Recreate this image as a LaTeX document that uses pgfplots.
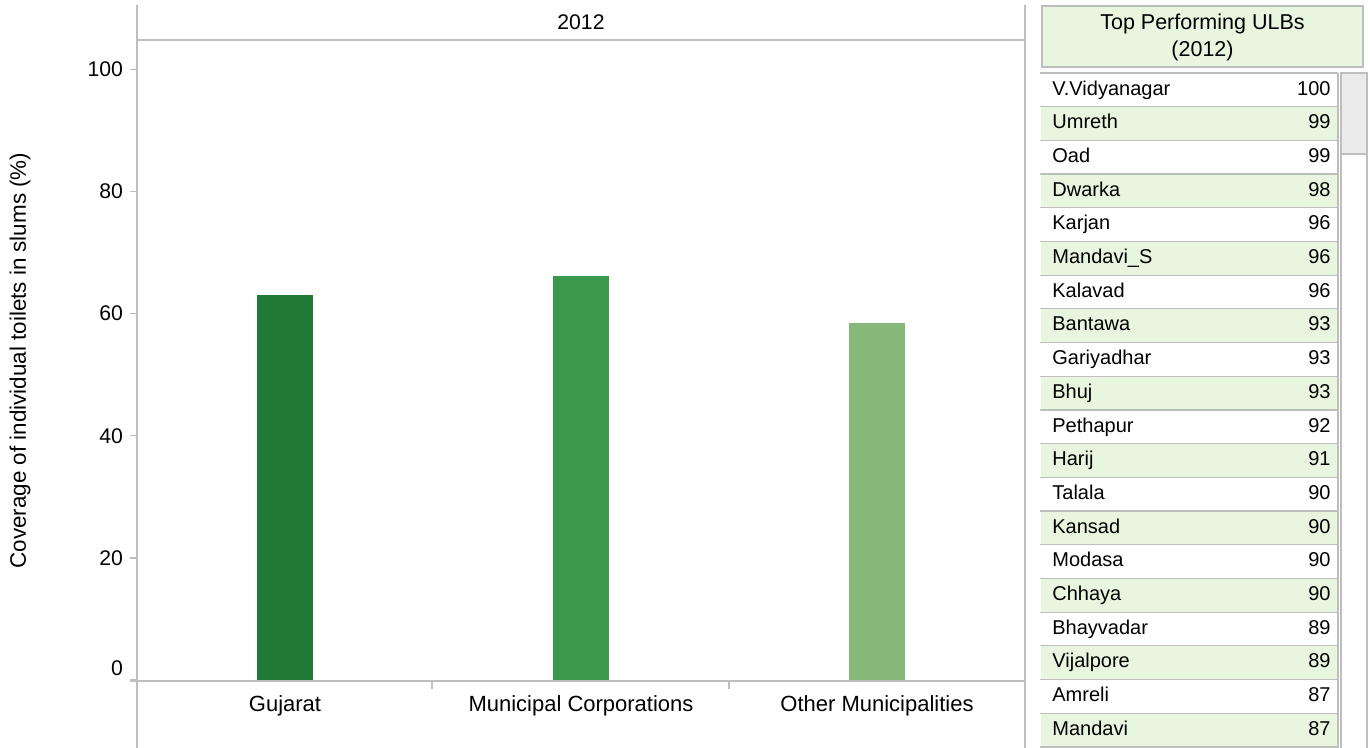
\documentclass[border=0pt]{standalone}
\usepackage{fontspec}
\setmainfont{Liberation Sans}
\usepackage{pgfplots}
\pgfplotsset{compat=1.18}
\definecolor{gA}{HTML}{217B37}
\definecolor{gB}{HTML}{3A994A}
\definecolor{gC}{HTML}{88B77A}
\definecolor{rowgreen}{HTML}{E8F5DF}
\definecolor{linegray}{HTML}{BEBEBE}
\definecolor{thumb}{HTML}{EBEBEB}

\begin{document}
\begin{tikzpicture}
\useasboundingbox (0,0) rectangle (686pt,-374pt);
\begin{axis}[
  at={(68.5pt,-340.5pt)}, anchor=south west,
  scale only axis, width=444pt, height=320.5pt,
  ymin=-0.16, ymax=104.8, xmin=-0.5, xmax=2.5,
  ytick={20,40,...,100},
  extra y ticks={0},
  extra y tick style={yticklabel style={yshift=6pt}},
  ytick pos=left,
  xtick={0,1,2},
  xticklabels={Gujarat,Municipal Corporations,Other Municipalities},
  axis line style={draw=none},
  tick align=outside, major tick length=3.5pt,
  ytick style={linegray, line width=0.7pt},
  xtick style={draw=none},
  ylabel={Coverage of individual toilets in slums (\%)},
  ylabel style={at={(rel axis cs:0,0.5)}, anchor=center, yshift=58.5pt,
    font=\fontsize{11.2}{13}\selectfont},
  yticklabel style={font=\fontsize{10.6}{12}\selectfont},
  xticklabel style={font=\fontsize{11}{13}\selectfont},
  /pgf/number format/assume math mode=true,
  clip=false,
]
\addplot[ybar, bar width=28pt, bar shift=0pt, fill=gA, draw=none] coordinates {(0,63.0)};
\addplot[ybar, bar width=28pt, bar shift=0pt, fill=gB, draw=none] coordinates {(1,66.2)};
\addplot[ybar, bar width=28pt, bar shift=0pt, fill=gC, draw=none] coordinates {(2,58.5)};
\end{axis}

\begin{scope}[x=0.5pt,y=-0.5pt]
% panel frame
\begin{scope}[linegray, line width=0.7pt]
\draw (137,5) -- (137,748);
\draw (1025,5) -- (1025,748);
\draw (137,40) -- (1025,40);
\draw (130,681) -- (1025,681);
\draw (432,682) -- (432,689);
\draw (729,682) -- (729,689);
\end{scope}
\node[font=\fontsize{10.6}{12}\selectfont] at (581,22) {2012};

% side table
\draw[fill=rowgreen, draw=linegray, line width=0.7pt] (1042,6) rectangle (1363,67);
\node[align=center, font=\fontsize{10.75}{13.5}\selectfont] at (1202.5,37) {Top Performing ULBs\\(2012)};

\foreach \n/\v [count=\i] in {V.Vidyanagar/100, Umreth/99, Oad/99, Dwarka/98, Karjan/96,
  Mandavi\_S/96, Kalavad/96, Bantawa/93, Gariyadhar/93, Bhuj/93, Pethapur/92, Harij/91,
  Talala/90, Kansad/90, Modasa/90, Chhaya/90, Bhayvadar/89, Vijalpore/89, Amreli/87, Mandavi/87} {
  \pgfmathsetmacro\t{73+(\i-1)*33.7}
  \pgfmathsetmacro\b{\t+33.7}
  \pgfmathsetmacro\c{\t+16.85}
  \ifodd\i\else
    \fill[rowgreen] (1041,\t) rectangle (1338,\b);
  \fi
  \draw[linegray, line width=0.6pt] (1040,\t) -- (1338,\t);
  \node[anchor=west, inner sep=0pt, text height=7.2pt, text depth=2pt,
    font=\fontsize{10}{12}\selectfont] at (1052,\c) {\n};
  \node[anchor=east, inner sep=0pt, text height=7.2pt, text depth=2pt,
    font=\fontsize{10}{12}\selectfont] at (1331,\c) {\v};
}
\draw[linegray, line width=0.6pt] (1040,747) -- (1338,747);
\draw[linegray, line width=0.7pt] (1338,73) -- (1338,748);
\draw[linegray, line width=0.7pt] (1341,73) -- (1341,748);
\draw[linegray, line width=0.7pt] (1367,73) -- (1367,748);
\draw[fill=thumb, draw=linegray, line width=0.7pt] (1341,73) rectangle (1367,154);
\end{scope}
\end{tikzpicture}
\end{document}
